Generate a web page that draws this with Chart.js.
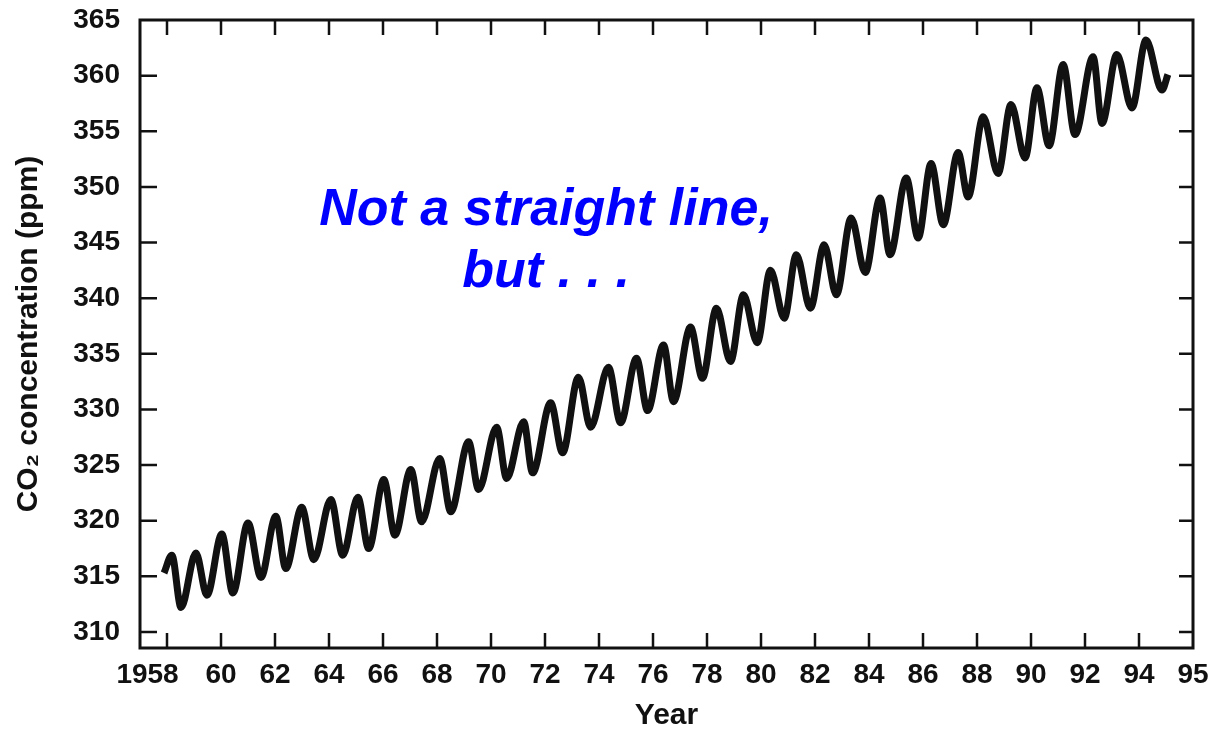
<!DOCTYPE html>
<html>
<head>
<meta charset="utf-8">
<title>CO2 concentration</title>
<script src="https://cdn.jsdelivr.net/npm/chart.js@4.4.1/dist/chart.umd.min.js"></script>
<style>
  html, body { margin: 0; padding: 0; background: #fff; }
  #wrap { width: 1214px; height: 731px; position: relative; }
</style>
</head>
<body>
<div id="wrap"><canvas id="myChart"></canvas></div>
<script>
// seasonal highs and lows (decimal year, ppm)
const years = [1957.89, 1958.18, 1958.52, 1959.07, 1959.48, 1960.03, 1960.44, 1961.00, 1961.48, 1962.03,
  1962.40, 1962.99, 1963.44, 1964.07, 1964.51, 1965.07, 1965.47, 1966.03, 1966.44, 1967.03,
  1967.43, 1968.10, 1968.51, 1969.17, 1969.54, 1970.21, 1970.58, 1971.21, 1971.54, 1972.21,
  1972.65, 1973.24, 1973.69, 1974.35, 1974.80, 1975.39, 1975.80, 1976.39, 1976.76, 1977.39,
  1977.83, 1978.35, 1978.87, 1979.35, 1979.86, 1980.35, 1980.86, 1981.31, 1981.83, 1982.34,
  1982.79, 1983.34, 1983.86, 1984.41, 1984.78, 1985.38, 1985.82, 1986.30, 1986.75, 1987.30,
  1987.67, 1988.23, 1988.78, 1989.26, 1989.78, 1990.22, 1990.67, 1991.19, 1991.63, 1992.30,
  1992.63, 1993.18, 1993.74, 1994.26, 1994.85, 1995.07];
const co2 = [315.3, 316.9, 312.2, 317.1, 313.3, 318.8, 313.5, 319.8, 314.9, 320.4,
  315.7, 321.2, 316.5, 321.9, 316.9, 322.1, 317.5, 323.7, 318.7, 324.6,
  319.9, 325.6, 320.8, 327.1, 322.8, 328.4, 323.8, 328.9, 324.3, 330.6,
  326.1, 332.9, 328.4, 333.8, 328.8, 334.6, 329.9, 335.8, 330.7, 337.4,
  332.8, 339.1, 334.3, 340.3, 336.0, 342.5, 338.2, 343.9, 339.1, 344.8,
  340.3, 347.2, 342.3, 349.0, 343.9, 350.8, 345.4, 352.1, 346.6, 353.1,
  349.1, 356.3, 351.2, 357.4, 352.6, 358.9, 353.7, 361.0, 354.7, 361.7,
  355.7, 361.9, 357.1, 363.2, 358.7, 360.1];

const xTickValues = [1958, 1960, 1962, 1964, 1966, 1968, 1970, 1972, 1974, 1976,
  1978, 1980, 1982, 1984, 1986, 1988, 1990, 1992, 1994, 1996];
// trailing spaces nudge "1958" left of its tick, like the original
const xTickLabels = ['1958     ', '60', '62', '64', '66', '68', '70', '72', '74', '76',
  '78', '80', '82', '84', '86', '88', '90', '92', '94', '95'];
const yTickValues = [310, 315, 320, 325, 330, 335, 340, 345, 350, 355, 360, 365];

const noteLines = ['Not a straight line,', 'but . . .'];

const ink = '#111';
const family = '"Liberation Sans", Arial, sans-serif';
const tickFont = { family: family, size: 28, weight: 'bold' };

// box round the plot with short inward tick marks on all four sides
const framePlugin = {
  id: 'frame',
  afterDatasetsDraw(chart) {
    const { ctx, chartArea: a, scales: { x, y } } = chart;
    ctx.save();
    ctx.strokeStyle = ink;
    ctx.lineWidth = 3;
    ctx.strokeRect(a.left, a.top, a.right - a.left, a.bottom - a.top);
    ctx.lineWidth = 2.5;
    ctx.beginPath();
    xTickValues.slice(0, -1).forEach(v => {
      const px = x.getPixelForValue(v);
      ctx.moveTo(px, a.bottom); ctx.lineTo(px, a.bottom - 15);
      ctx.moveTo(px, a.top); ctx.lineTo(px, a.top + 15);
    });
    yTickValues.slice(0, -1).forEach(v => {
      const py = y.getPixelForValue(v);
      ctx.moveTo(a.left, py); ctx.lineTo(a.left + 17, py);
      ctx.moveTo(a.right, py); ctx.lineTo(a.right - 14, py);
    });
    ctx.stroke();

    // the blue note
    ctx.fillStyle = '#0000ff';
    ctx.font = 'italic bold 52px ' + family;
    ctx.textAlign = 'center';
    ctx.textBaseline = 'alphabetic';
    const nx = x.getPixelForValue(1972.04);
    ctx.fillText(noteLines[0], nx, y.getPixelForValue(346.57));
    ctx.fillText(noteLines[1], nx, y.getPixelForValue(341.0));
    ctx.restore();
  }
};

const ctx = document.getElementById('myChart').getContext('2d');

const chart = new Chart(ctx, {
  type: 'line',
  data: {
    datasets: [{
      label: 'CO2',
      data: years.map((yr, i) => ({ x: yr, y: co2[i] })),
      borderColor: ink,
      borderWidth: 7,
      pointRadius: 0,
      cubicInterpolationMode: 'monotone',
      fill: false
    }]
  },
  options: {
    responsive: true,
    maintainAspectRatio: false,
    animation: false,
    layout: { padding: { top: 20, right: 21, left: 0, bottom: 0 } },
    plugins: {
      legend: { display: false },
      tooltip: { enabled: false }
    },
    scales: {
      x: {
        type: 'linear',
        min: 1957,
        max: 1996,
        afterBuildTicks: scale => { scale.ticks = xTickValues.map(v => ({ value: v })); },
        afterFit: scale => {
          scale.height = 83;
          scale.paddingLeft = 0;
          scale.paddingRight = 0;
        },
        grid: { display: false, drawTicks: false },
        border: { display: false },
        ticks: {
          autoSkip: false,
          maxRotation: 0,
          padding: 10,
          color: ink,
          font: tickFont,
          callback: v => xTickLabels[xTickValues.indexOf(v)]
        },
        title: {
          display: true,
          text: 'Year',
          color: ink,
          font: { family: family, size: 30, weight: 'bold', lineHeight: 1 },
          padding: { top: 0, bottom: 0 }
        }
      },
      y: {
        min: 308.56,
        max: 365,
        afterBuildTicks: scale => { scale.ticks = yTickValues.map(v => ({ value: v })); },
        afterFit: scale => {
          scale.width = 140;
          scale.paddingTop = 0;
          scale.paddingBottom = 0;
        },
        grid: { display: false, drawTicks: false },
        border: { display: false },
        ticks: {
          padding: 20,
          color: ink,
          font: tickFont
        },
        title: {
          display: true,
          text: 'CO₂ concentration (ppm)',
          color: ink,
          font: { family: family, size: 30, weight: 'bold', lineHeight: 1.2 },
          padding: { top: 11, bottom: 0 }
        }
      }
    }
  },
  plugins: [framePlugin]
});
</script>
</body>
</html>
